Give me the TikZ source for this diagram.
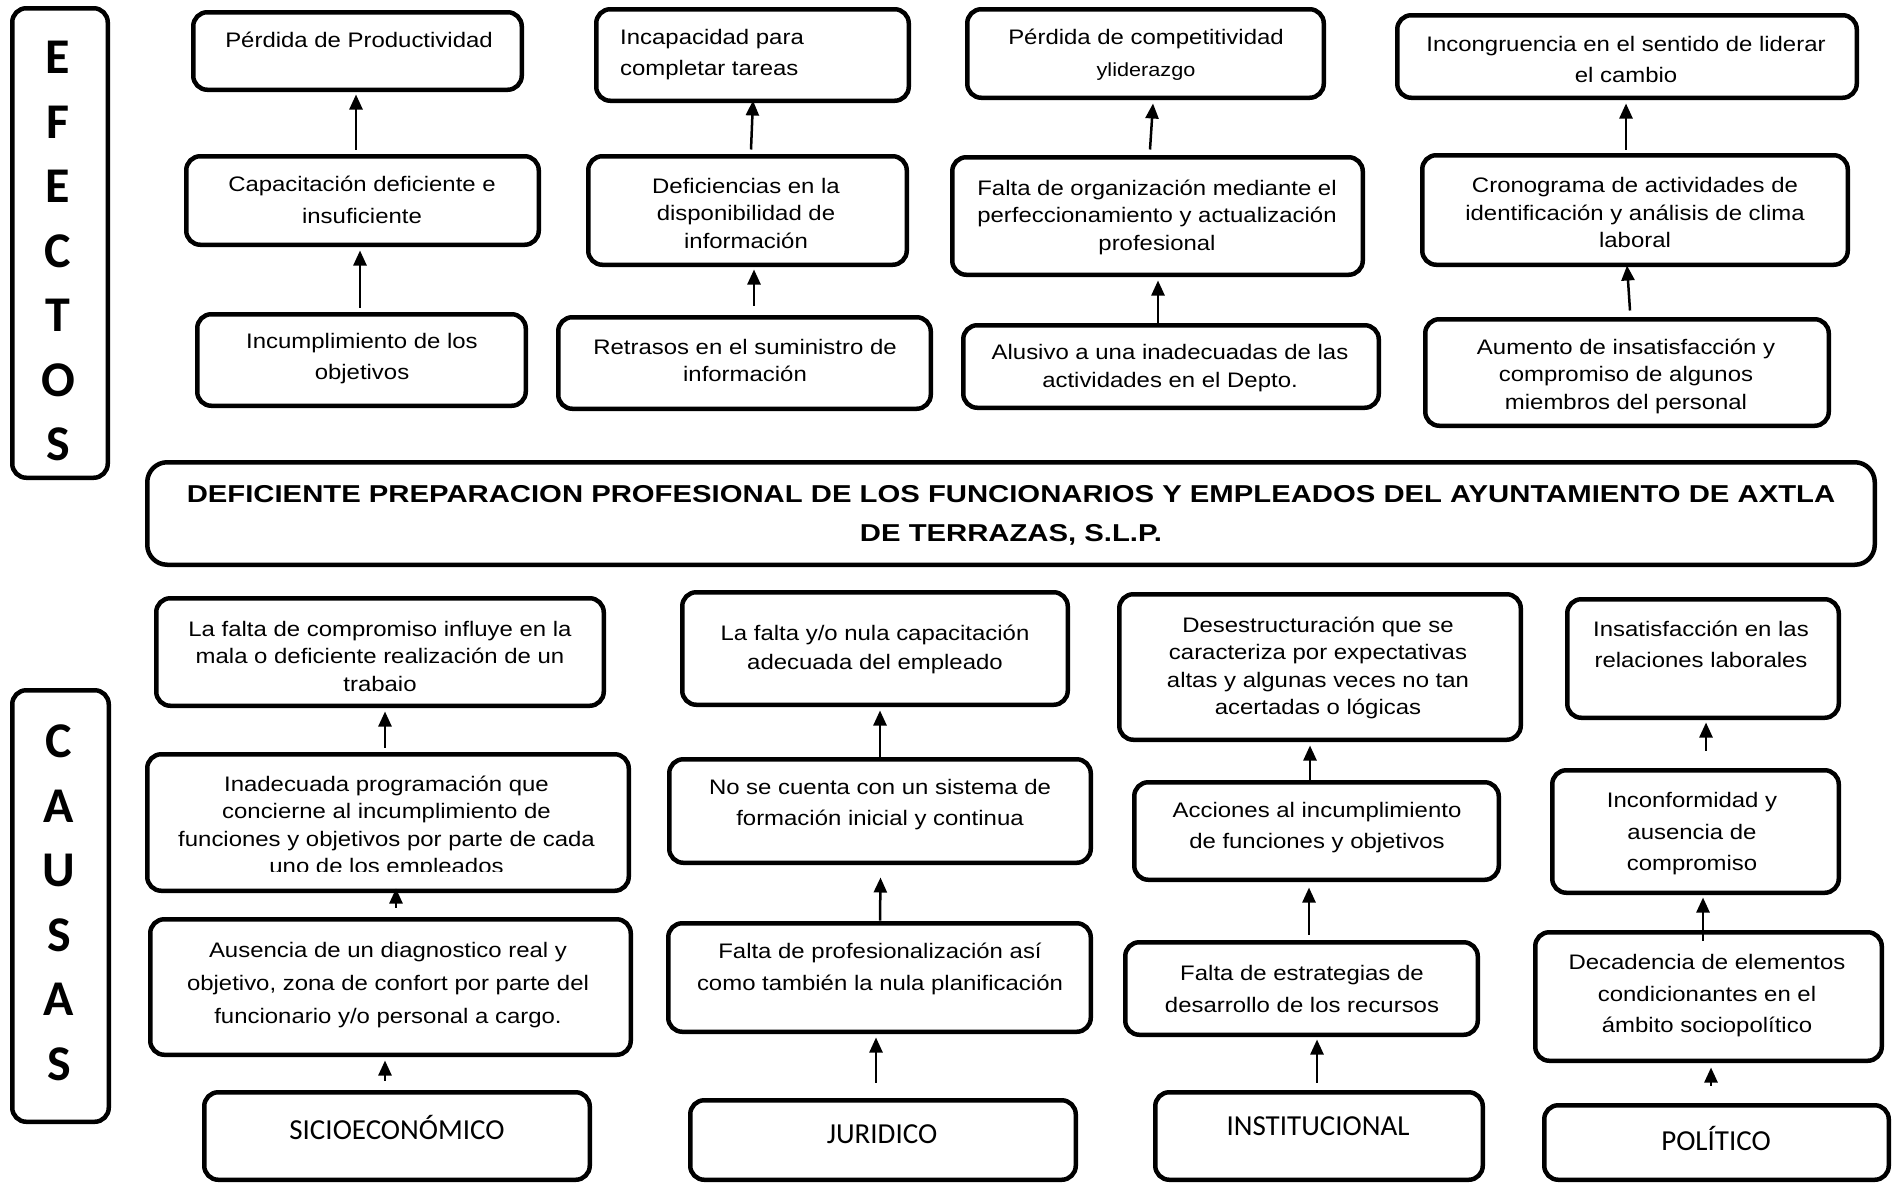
\documentclass[tikz,border=0pt]{standalone}
\usepackage{fontspec}
\setmainfont{Liberation Sans}[FakeStretch=1.14]
\newfontfamily\titlefont{Liberation Sans}[FakeStretch=1.2]
\newfontfamily\calfont{Carlito}
\usetikzlibrary{arrows.meta}
\tikzset{
  bx/.style={draw=black, line width=4.5pt, rounded corners=14pt, inner sep=0pt, fill=white},
  tn/.style={inner sep=0pt, align=center, font=\fontsize{21}{27.5}\selectfont},
  tw/.style={inner sep=0pt, align=center, font=\fontsize{21}{31.5}\selectfont},
  tm/.style={inner sep=0pt, align=center, font=\fontsize{21}{29}\selectfont},
  tx/.style={inner sep=0pt, align=center, font=\fontsize{21}{33}\selectfont},
  lbl/.style={inner sep=0pt, font=\calfont\fontsize{29}{35}\selectfont},
  side/.style={inner sep=0pt, align=center, font=\calfont\bfseries\fontsize{50}{64.5}\selectfont},
  ttl/.style={inner sep=0pt, align=center, font=\titlefont\bfseries\fontsize{24.4}{38.8}\selectfont},
  arr/.style={line width=2.5pt, -{Triangle[length=15pt,width=13pt]}},
}
\newcommand\bx[5]{\node[bx, minimum width={#4-#2-4.5}, minimum height={#5-#3-4.5}] (#1) at ({(#2+#4)/2},{(#3+#5)/2}) {};}
\begin{document}
\begin{tikzpicture}[x=1pt,y=-1pt]
\useasboundingbox[fill=white] (0,0) rectangle (1900,1186);
% side boxes
\bx{efectos}{10}{6}{110}{480}
\bx{causas}{10}{688}{111}{1124}
\node[side] (tefectos) at (58,251) {E\\F\\E\\C\\T\\O\\S};
\node[side] (tcausas) at (59,903) {C\\A\\U\\S\\A\\S};
% effects boxes
\bx{e1a}{191}{10}{524}{92}
\bx{e1b}{184}{154}{541}{247}
\bx{e1c}{195}{312}{528}{408}
\bx{e2a}{594}{7}{911}{103}
\bx{e2b}{586}{154}{909}{267}
\bx{e2c}{556}{315}{933}{411}
\bx{e3a}{965}{7}{1326}{100}
\bx{e3b}{950}{155}{1365}{277}
\bx{e3c}{961}{323}{1381}{410}
\bx{e4a}{1395}{13}{1859}{100}
\bx{e4b}{1420}{153}{1850}{267}
\bx{e4c}{1423}{317}{1831}{428}
% title
\node[bx, rounded corners=20pt, minimum width=1727.5, minimum height=102.5] (title) at (1011,513.5) {};
\node[ttl] (ttitle) at (1011,515) {DEFICIENTE PREPARACION PROFESIONAL DE LOS FUNCIONARIOS Y EMPLEADOS DEL AYUNTAMIENTO DE AXTLA\\DE TERRAZAS, S.L.P.};
% causes boxes
\bx{c1a}{154}{596}{606}{708}
\bx{c1b}{145}{752}{631}{893}
\bx{c1c}{148}{917}{633}{1057}
\bx{c1d}{202}{1090}{592}{1182}
\bx{c2a}{680}{590}{1070}{707}
\bx{c2b}{667}{757}{1093}{865}
\bx{c2c}{666}{921}{1093}{1034}
\bx{c2d}{688}{1098}{1078}{1182}
\bx{c3a}{1117}{592}{1523}{742}
\bx{c3b}{1132}{780}{1501}{882}
\bx{c3c}{1123}{940}{1480}{1037}
\bx{c3d}{1153}{1090}{1485}{1182}
\bx{c4a}{1565}{597}{1841}{720}
\bx{c4b}{1550}{768}{1841}{895}
\bx{c4c}{1533}{930}{1884}{1063}
\bx{c4d}{1542}{1103}{1891}{1182}
% effects texts
\node[tw] (te1a) at (359,40) {Pérdida de Productividad};
\node[tw, align=left, anchor=west] (te2a) at (620,54.5) {Incapacidad para\\completar tareas};
\node[tw] (te3a) at (1146,54.5) {Pérdida de competitividad\\{\fontsize{19}{31.5}\selectfont yliderazgo}};
\node[tw] (te4a) at (1626,59.5) {Incongruencia en el sentido de liderar\\el cambio};
\node[tw] (te1b) at (362,200) {Capacitación deficiente e\\insuficiente};
\node[tn] (te2b) at (746,213) {Deficiencias en la\\disponibilidad de\\información};
\node[tn] (te3b) at (1157,217) {Falta de organización mediante el\\perfeccionamiento y actualización\\profesional};
\node[tn] (te4b) at (1635,212.6) {Cronograma de actividades de\\identificación y análisis de clima\\laboral};
\node[tw] (te1c) at (362,358.6) {Incumplimiento de los\\objetivos};
\node[tn] (te2c) at (745,360.5) {Retrasos en el suministro de\\información};
\node[tn] (te3c) at (1170,368) {Alusivo a una inadecuadas de las\\actividades en el Depto.};
\node[tn] (te4c) at (1626,376) {Aumento de insatisfacción y\\compromiso de algunos\\miembros del personal};
% causes texts
\node[tn] (tc1a) at (380,656) {La falta de compromiso influye en la\\mala o deficiente realización de un\\trabaio};
\node[tm] (tc2a) at (875,649.5) {La falta y/o nula capacitación\\adecuada del empleado};
\node[tn] (tc3a) at (1318,668) {Desestructuración que se\\caracteriza por expectativas\\altas y algunas veces no tan\\acertadas o lógicas};
\node[tw] (tc4a) at (1701,644.5) {Insatisfacción en las\\relaciones laborales};
\begin{scope}
\clip (140,740) rectangle (640,871);
\node[tn] (tc1b) at (386.5,827) {Inadecuada programación que\\concierne al incumplimiento de\\funciones y objetivos por parte de cada\\uno de los empleados};
\end{scope}
\node[tw] (tc2b) at (880,804.5) {No se cuenta con un sistema de\\formación inicial y continua};
\node[tw] (tc3b) at (1317,827.5) {Acciones al incumplimiento\\de funciones y objetivos};
\node[tw] (tc4b) at (1692,833.6) {Inconformidad y\\ausencia de\\compromiso};
\node[tx] (tc1c) at (388,985) {Ausencia de un diagnostico real y\\objetivo, zona de confort por parte del\\funcionario y/o personal a cargo.};
\node[tw] (tc2c) at (880,969) {Falta de profesionalización así\\como también la nula planificación};
\node[tw] (tc3c) at (1302,989) {Falta de estrategias de\\desarrollo de los recursos};
\node[tw] (tc4c) at (1707,996) {Decadencia de elementos\\condicionantes en el\\ámbito sociopolítico};
\node[lbl] (tc1d) at (397,1127) {SICIOECONÓMICO};
\node[lbl] (tc2d) at (882,1134) {JURIDICO};
\node[lbl] (tc3d) at (1318,1126) {INSTITUCIONAL};
\node[lbl] (tc4d) at (1716,1138) {POLÍTICO};
% effect arrows
\draw[arr] ([xshift=-6.5pt,yshift=4.5pt]e1b.north) -- ([xshift=-1.5pt,yshift=-2.5pt]e1a.south);
\draw[arr] ([xshift=-1.5pt,yshift=4.5pt]e1c.north) -- ([xshift=-2.5pt,yshift=-3.5pt]e1b.south);
\draw[arr] ([xshift=3.5pt,yshift=4.5pt]e2b.north) -- ([xshift=0.5pt,yshift=2.5pt]e2a.south);
\draw[arr] ([xshift=9.5pt,yshift=9.5pt]e2c.north) -- ([xshift=6.5pt,yshift=-2.5pt]e2b.south);
\draw[arr] ([xshift=-7.5pt,yshift=5.5pt]e3b.north) -- ([xshift=7.5pt,yshift=-3.5pt]e3a.south);
\draw[arr] ([xshift=-13pt,yshift=-2.5pt]e3c.north) -- ([xshift=0.5pt,yshift=-3.5pt]e3b.south);
\draw[arr] ([xshift=-9pt,yshift=3.5pt]e4b.north) -- ([xshift=-1pt,yshift=-3.5pt]e4a.south);
\draw[arr] ([xshift=3pt,yshift=6.5pt]e4c.north) -- ([xshift=-8pt,yshift=1.5pt]e4b.south);
% cause arrows
\draw[arr] ([xshift=-3pt,yshift=4.5pt]c1b.north) -- ([xshift=5pt,yshift=-3.5pt]c1a.south);
\draw[arr] ([xshift=5.5pt,yshift=9.5pt]c1c.north) -- ([xshift=8pt,yshift=4.5pt]c1b.south);
\draw[arr] ([xshift=-12pt,yshift=9.5pt]c1d.north) -- ([xshift=-5.5pt,yshift=-3.5pt]c1c.south);
\draw[arr] ([xshift=0pt,yshift=-2.5pt]c2b.north) -- ([xshift=5pt,yshift=-3.5pt]c2a.south);
\draw[arr] ([xshift=0.5pt,yshift=0.5pt]c2c.north) -- ([xshift=0.5pt,yshift=-12.5pt]c2b.south);
\draw[arr] ([xshift=-7pt,yshift=15.5pt]c2d.north) -- ([xshift=-3.5pt,yshift=-3.5pt]c2c.south);
\draw[arr] ([xshift=-6.5pt,yshift=-2.5pt]c3b.north) -- ([xshift=-10pt,yshift=-3.5pt]c3a.south);
\draw[arr] ([xshift=7.5pt,yshift=5.5pt]c3c.north) -- ([xshift=-7.5pt,yshift=-5.5pt]c3b.south);
\draw[arr] ([xshift=-2pt,yshift=7.5pt]c3d.north) -- ([xshift=15.5pt,yshift=-2.5pt]c3c.south);
\draw[arr] ([xshift=10.5pt,yshift=17.5pt]c4b.north) -- ([xshift=3pt,yshift=-2.5pt]c4a.south);
\draw[arr] ([xshift=-5.5pt,yshift=-10.5pt]c4c.north) -- ([xshift=7.5pt,yshift=-2.5pt]c4b.south);
\draw[arr] ([xshift=-5.5pt,yshift=17.5pt]c4d.north) -- ([xshift=2.5pt,yshift=-4.5pt]c4c.south);
\end{tikzpicture}
\end{document}
